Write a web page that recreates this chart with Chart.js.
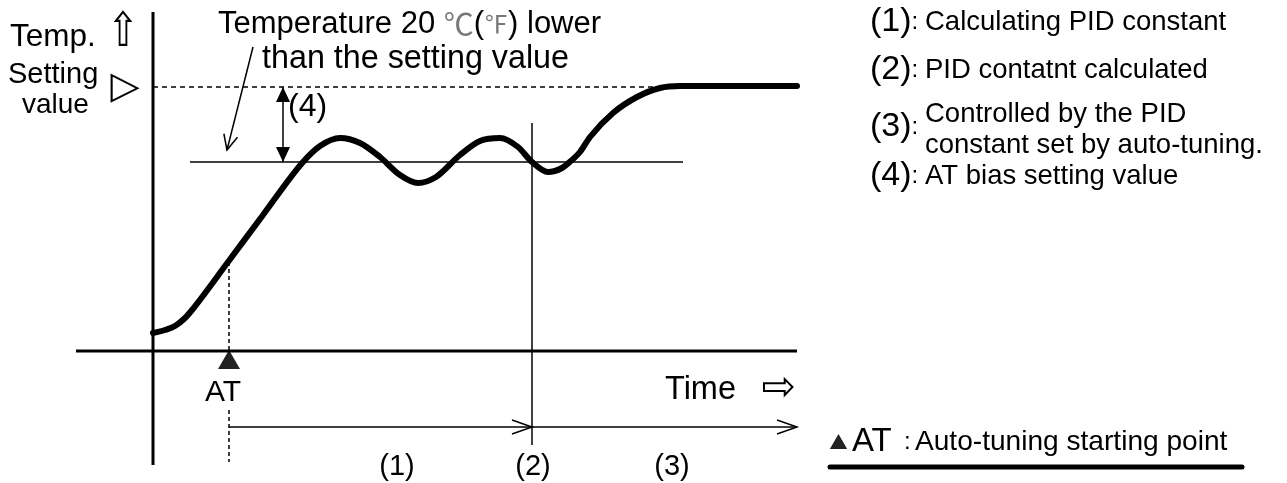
<!DOCTYPE html>
<html>
<head>
<meta charset="utf-8">
<script src="https://cdn.jsdelivr.net/npm/chart.js@4.4.0/dist/chart.umd.min.js"></script>
<style>
    html, body { margin: 0; padding: 0; background: #fff; overflow: hidden; }
    #chart { display: block; }
</style>
</head>
<body>
<canvas id="chart" width="1287" height="483"></canvas>
<script>
// Temperature curve (time, temperature)
const curveTime = [0, 12, 22, 32, 39, 75, 110, 150, 167, 187, 207, 227, 247, 265, 283, 307, 327, 347, 365, 379, 395, 409, 419, 427, 437, 460, 484, 507, 527, 644];
const curveTemp = [18, 21, 25, 33, 41, 89, 136, 189, 205, 213, 208, 194, 176, 168, 174, 196, 210, 213, 204, 189, 179, 183, 191, 199, 214, 238, 254, 263, 265, 265];

const settingValue = 264;
const biasValue = 189;
const atTime = 76;          // auto-tuning start
const atCurveTemp = 89;
const pidTime = 379;        // PID constant calculated
const endTime = 644;
const settingLineEnd = 507;
const biasLineRange = [37, 530];
const timeAxisRange = [-77, 644];
const tempAxisRange = [-114, 339];
const pidMarkRange = [-94, 228];
const phaseArrowTemp = -76;
const biasArrowTime = 130;
const leaderFrom = [100, 304];
const leaderTo = [74, 201];
const atMarkTemp = -11.7;
const legendMark = [685.5, -93];
const underline = [677, 1089, -116];

const SANS = '"Liberation Sans", Arial, sans-serif';
const SYM = '"DejaVu Sans", sans-serif';
const CJK = '"Noto Sans CJK JP", sans-serif';

// text labels: position in chart units, runs drawn one after another
const labels = [
    { t: -143, T: 314, runs: [{ text: 'Temp.', size: 31.5 }] },
    { t: -30, T: 317, align: 'center', runs: [{ text: '⇧', size: 38, font: SYM, sy: 1.25 }] },
    { t: -145, T: 276, runs: [{ text: 'Setting', size: 29 }] },
    { t: -131, T: 246, runs: [{ text: 'value', size: 28 }] },
    { t: -28, T: 263, align: 'center', runs: [{ text: '▷', size: 38, font: SYM }] },
    { t: 65, T: 327, runs: [
        { text: 'Temperature 20 ', size: 31 },
        { text: '℃', size: 30, font: CJK, color: '#777' },
        { text: '(', size: 31 },
        { text: '℉', size: 24, font: CJK, color: '#777' },
        { text: ') lower', size: 31 }
    ] },
    { t: 109, T: 292, runs: [{ text: 'than the setting value', size: 32.3 }] },
    { t: 135, T: 244, runs: [{ text: '(4)', size: 32 }] },

    { t: 717, T: 329, runs: [{ text: '(1)', size: 34 }, { text: ':', size: 24 }] },
    { t: 772, T: 329, runs: [{ text: 'Calculating PID constant', size: 27.5 }] },
    { t: 717, T: 281, runs: [{ text: '(2)', size: 34 }, { text: ':', size: 24 }] },
    { t: 772, T: 281, runs: [{ text: 'PID contatnt calculated', size: 27.5 }] },
    { t: 717, T: 224, runs: [{ text: '(3)', size: 34 }, { text: ':', size: 24 }] },
    { t: 772, T: 237, runs: [{ text: 'Controlled by the PID', size: 27.5 }] },
    { t: 772, T: 206, runs: [{ text: 'constant set by auto-tuning.', size: 27.5 }] },
    { t: 717, T: 175, runs: [{ text: '(4)', size: 34 }, { text: ':', size: 24 }] },
    { t: 772, T: 175, runs: [{ text: 'AT bias setting value', size: 27.5 }] },

    { t: 70, T: -42, align: 'center', runs: [{ text: 'AT', size: 30 }] },
    { t: 512, T: -39, runs: [{ text: 'Time', size: 32.5 }] },
    { t: 626, T: -38, align: 'center', runs: [{ text: '⇨', size: 41, font: SYM }] },
    { t: 244, T: -116, align: 'center', runs: [{ text: '(1)', size: 29 }] },
    { t: 380, T: -116, align: 'center', runs: [{ text: '(2)', size: 29 }] },
    { t: 519, T: -116, align: 'center', runs: [{ text: '(3)', size: 29 }] },
    { t: 699, T: -91, runs: [{ text: 'AT', size: 33 }] },
    { t: 751, T: -91, runs: [{ text: ':', size: 24 }] },
    { t: 762, T: -91, runs: [{ text: 'Auto-tuning starting point', size: 28.1 }] }
];

function seg(x0, y0, x1, y1) {
    return [{ x: x0, y: y0 }, { x: x1, y: y1 }];
}

function lineSet(data, width, extra = {}) {
    return Object.assign({
        data: data,
        borderColor: '#000',
        borderWidth: width,
        pointRadius: 0,
        fill: false,
        tension: 0
    }, extra);
}

// draws arrow heads on datasets that ask for them
const arrowPlugin = {
    id: 'arrows',
    afterDatasetsDraw(chart) {
        const ctx = chart.ctx;
        chart.data.datasets.forEach((ds, i) => {
            if (!ds.arrowEnd && !ds.arrowStart) return;
            const pts = chart.getDatasetMeta(i).data;
            const heads = [];
            if (ds.arrowEnd) heads.push([pts[pts.length - 2], pts[pts.length - 1], ds.arrowEnd]);
            if (ds.arrowStart) heads.push([pts[1], pts[0], ds.arrowStart]);
            heads.forEach(([a, b, style]) => {
                const ang = Math.atan2(b.y - a.y, b.x - a.x);
                const len = ds.headLength || 16;
                const half = ds.headHalf || 6;
                const bx = b.x - Math.cos(ang) * len, by = b.y - Math.sin(ang) * len;
                const nx = -Math.sin(ang) * half, ny = Math.cos(ang) * half;
                ctx.save();
                ctx.strokeStyle = '#000';
                ctx.fillStyle = '#000';
                ctx.lineWidth = 1.5;
                ctx.beginPath();
                ctx.moveTo(bx + nx, by + ny);
                ctx.lineTo(b.x, b.y);
                ctx.lineTo(bx - nx, by - ny);
                if (style === 'filled') {
                    ctx.closePath();
                    ctx.fill();
                } else {
                    ctx.stroke();
                }
                ctx.restore();
            });
        });
    }
};

const textPlugin = {
    id: 'texts',
    afterDraw(chart) {
        const ctx = chart.ctx;
        const xs = chart.scales.x, ys = chart.scales.y;
        labels.forEach(lb => {
            const px = xs.getPixelForValue(lb.t);
            const py = ys.getPixelForValue(lb.T);
            let total = 0;
            lb.runs.forEach(r => {
                ctx.font = `${r.size}px ${r.font || SANS}`;
                total += ctx.measureText(r.text).width;
            });
            let x = lb.align === 'center' ? px - total / 2 : px;
            lb.runs.forEach(r => {
                ctx.save();
                ctx.font = `${r.size}px ${r.font || SANS}`;
                ctx.fillStyle = r.color || '#000';
                ctx.textAlign = 'left';
                ctx.textBaseline = 'middle';
                const w = ctx.measureText(r.text).width;
                ctx.translate(x, py);
                ctx.scale(1, r.sy || 1);
                ctx.fillText(r.text, 0, 0);
                x += w;
                ctx.restore();
            });
        });
    }
};

const datasets = [
    lineSet(curveTime.map((t, i) => ({ x: t, y: curveTemp[i] })), 6,
        { cubicInterpolationMode: 'monotone', borderCapStyle: 'round', borderJoinStyle: 'round' }),
    lineSet(seg(0, settingValue, settingLineEnd, settingValue), 1.5, { borderDash: [5, 4] }),
    lineSet(seg(biasLineRange[0], biasValue, biasLineRange[1], biasValue), 1.5),
    lineSet(seg(timeAxisRange[0], 0, timeAxisRange[1], 0), 3),
    lineSet(seg(0, tempAxisRange[0], 0, tempAxisRange[1]), 3),
    lineSet(seg(pidTime, pidMarkRange[0], pidTime, pidMarkRange[1]), 1.5),
    lineSet([{ x: atTime, y: atCurveTemp }, { x: atTime, y: 0 }, { x: atTime, y: null },
             { x: atTime, y: -59 }, { x: atTime, y: -111 }], 1.5, { borderDash: [4, 3], spanGaps: false }),
    lineSet(seg(atTime, phaseArrowTemp, pidTime, phaseArrowTemp), 1.5, { arrowEnd: 'open', headLength: 20, headHalf: 7 }),
    lineSet(seg(pidTime, phaseArrowTemp, endTime, phaseArrowTemp), 1.5, { arrowEnd: 'open', headLength: 20, headHalf: 7 }),
    lineSet(seg(biasArrowTime, settingValue, biasArrowTime, biasValue), 1.5,
        { arrowEnd: 'filled', arrowStart: 'filled', headLength: 15, headHalf: 7 }),
    lineSet(seg(leaderFrom[0], leaderFrom[1], leaderTo[0], leaderTo[1]), 1.5,
        { arrowEnd: 'open', headLength: 15, headHalf: 7 }),
    lineSet(seg(underline[0], underline[2], underline[1], underline[2]), 5, { borderCapStyle: 'round' }),
    {
        data: [{ x: atTime, y: atMarkTemp }, { x: legendMark[0], y: legendMark[1] }],
        showLine: false,
        pointStyle: 'triangle',
        pointRadius: [12.7, 10],
        pointBackgroundColor: '#222',
        pointBorderColor: '#222',
        pointBorderWidth: 0
    }
];

new Chart(document.getElementById('chart'), {
    type: 'line',
    data: { datasets: datasets },
    options: {
        responsive: false,
        animation: false,
        events: [],
        layout: { padding: 0, autoPadding: false },
        plugins: { legend: { display: false }, tooltip: { enabled: false } },
        scales: {
            x: { type: 'linear', min: -153, max: 1134, display: false },
            y: { type: 'linear', min: -132, max: 351, display: false }
        }
    },
    plugins: [arrowPlugin, textPlugin]
});
</script>
</body>
</html>
